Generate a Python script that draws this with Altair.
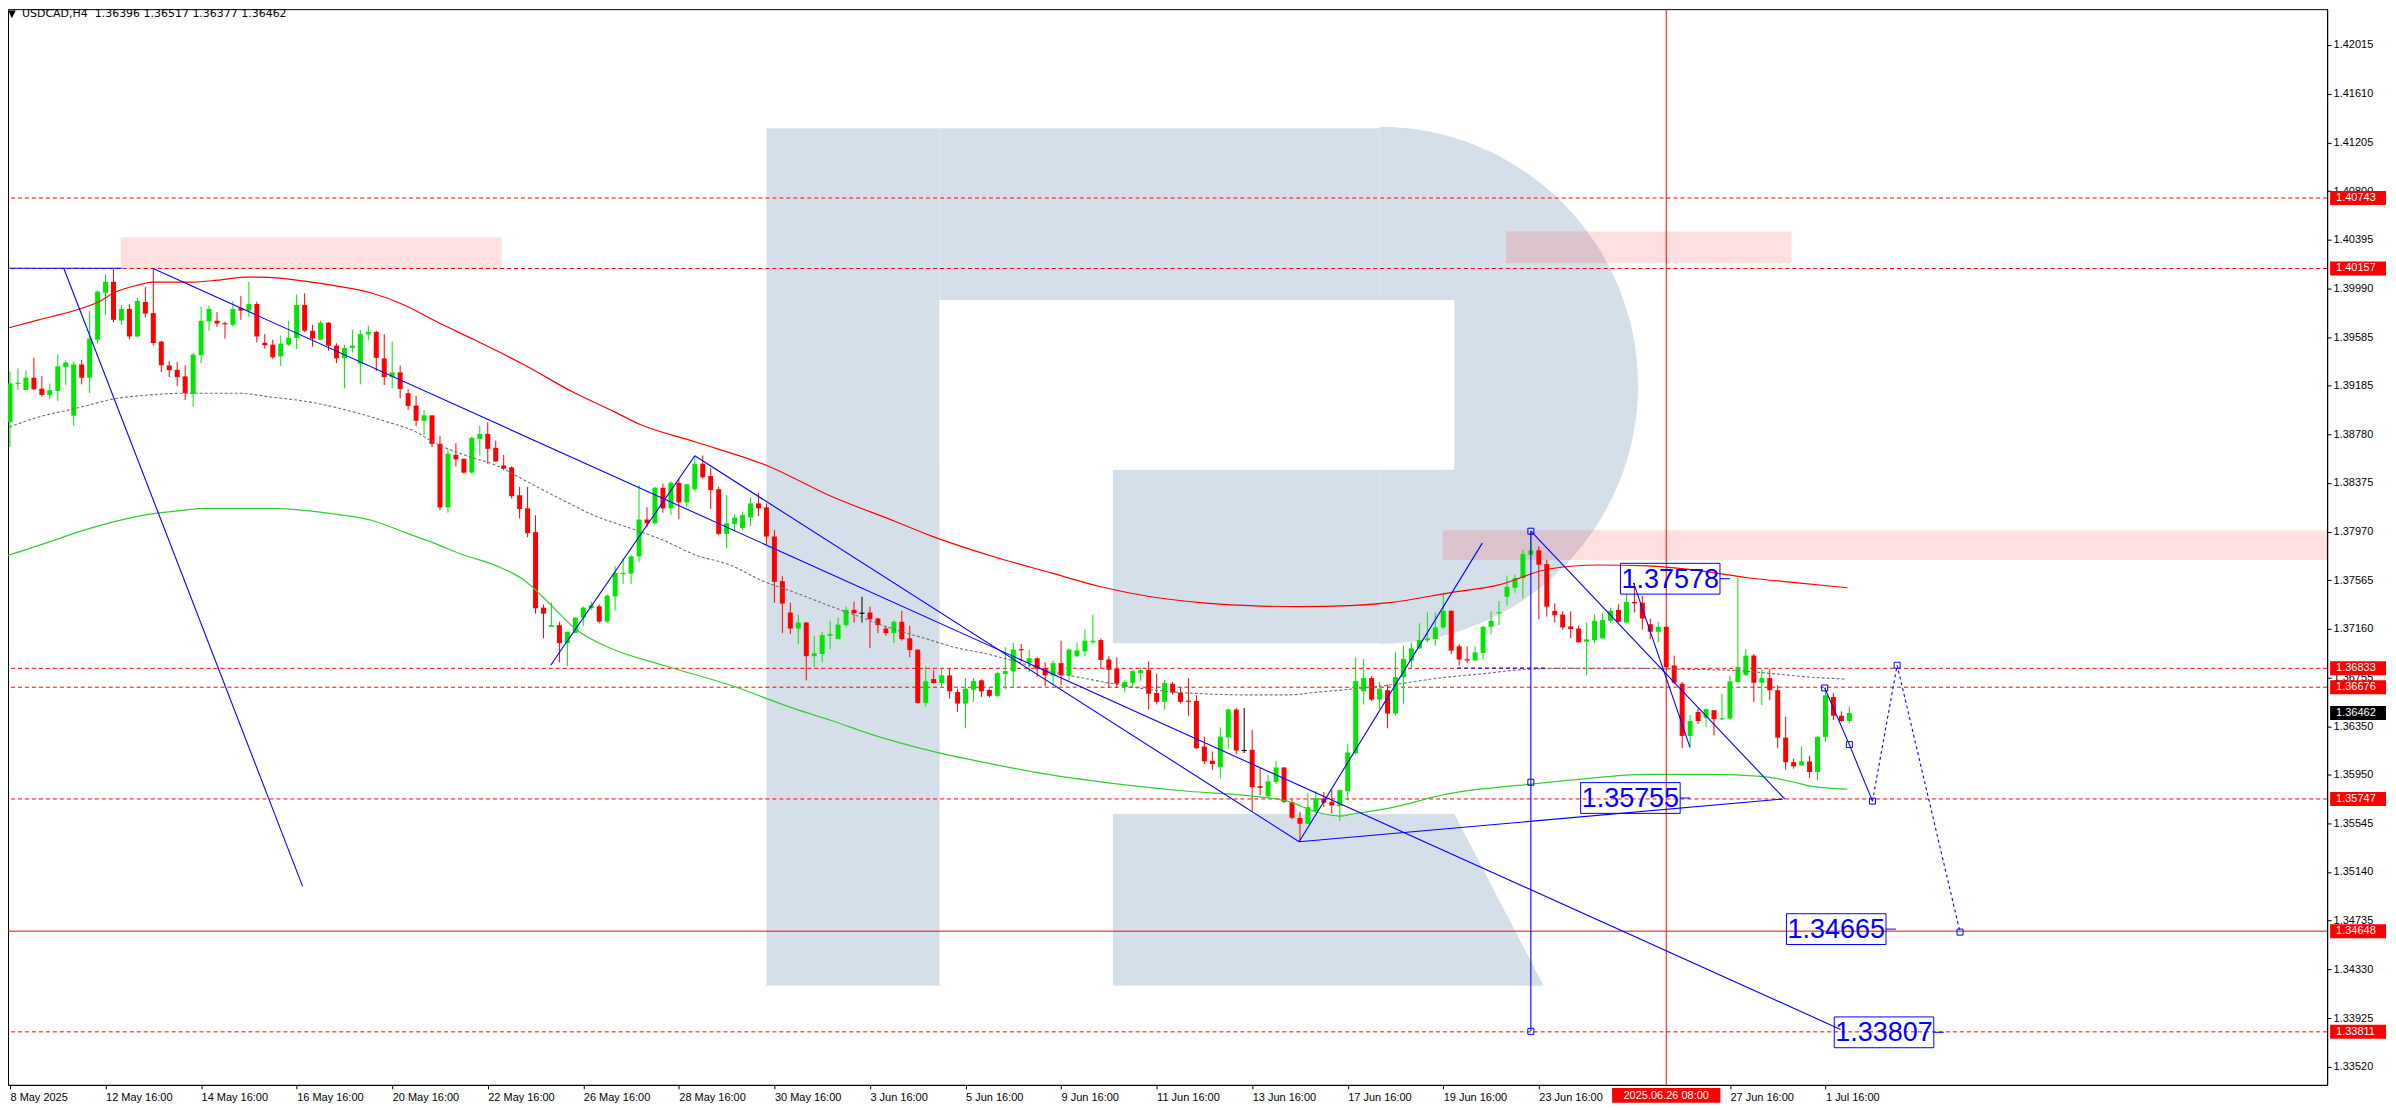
import math
import altair as alt
import pandas as pd

# ---------------- data (USDCAD H4, bar index 0 = 8 May 2025 16:00) ----------------
OPEN = [
1.38880, 1.39200, 1.39147, 1.39249, 1.39158, 1.39106, 1.39139, 1.39337, 1.38932, 1.39359,
1.39249, 1.39565, 1.39955, 1.40046, 1.39724, 1.39821, 1.39592, 1.39879, 1.39786, 1.39549,
1.39351, 1.39315, 1.39260, 1.39117, 1.39436, 1.39716, 1.39722, 1.39700, 1.39689, 1.39827,
1.39807, 1.39862, 1.39540, 1.39524, 1.39427, 1.39524, 1.39579, 1.39854, 1.39639, 1.39565,
1.39706, 1.39516, 1.39411, 1.39497, 1.39365, 1.39609, 1.39629, 1.39409, 1.39254, 1.39293,
1.39120, 1.39018, 1.38891, 1.38936, 1.38699, 1.38171, 1.38608, 1.38575, 1.38460, 1.38740,
1.38782, 1.38666, 1.38520, 1.38503, 1.38272, 1.38163, 1.37965, 1.37338, 1.37178, 1.37192,
1.37043, 1.37126, 1.37255, 1.37335, 1.37349, 1.37222, 1.37431, 1.37618, 1.37621, 1.37764,
1.38070, 1.38039, 1.38334, 1.38163, 1.38375, 1.38212, 1.38322, 1.38534, 1.38432, 1.38322,
1.37951, 1.38031, 1.37998, 1.38088, 1.38204, 1.38171, 1.37929, 1.37558, 1.37297, 1.37164,
1.37214, 1.36934, 1.36952, 1.37104, 1.37076, 1.37192, 1.37319, 1.37291, 1.37297, 1.37247,
1.37164, 1.37126, 1.37220, 1.37082, 1.36989, 1.36546, 1.36744, 1.36711, 1.36774, 1.36636,
1.36540, 1.36655, 1.36733, 1.36653, 1.36604, 1.36787, 1.36807, 1.36991, 1.36878, 1.36917,
1.36835, 1.36774, 1.36876, 1.36774, 1.36934, 1.36975, 1.37049, 1.37068, 1.36906, 1.36829,
1.36678, 1.36713, 1.36793, 1.36818, 1.36628, 1.36554, 1.36705, 1.36631, 1.36562, 1.36562,
1.36183, 1.36065, 1.36012, 1.36259, 1.36490, 1.36150, 1.36156, 1.35853, 1.35770, 1.35888,
1.36009, 1.35721, 1.35589, 1.35541, 1.35646, 1.35751, 1.35723, 1.35688, 1.35811, 1.36127,
1.36642, 1.36752, 1.36573, 1.36651, 1.36457, 1.36760, 1.36898, 1.36999, 1.37065, 1.37076,
1.37173, 1.37311, 1.37016, 1.36909, 1.36898, 1.36961, 1.37178, 1.37291, 1.37428, 1.37503,
1.37583, 1.37777, 1.37814, 1.37701, 1.37311, 1.37280, 1.37181, 1.37164, 1.37055, 1.37068,
1.37082, 1.37228, 1.37319, 1.37214, 1.37385, 1.37379, 1.37200, 1.37137, 1.37178, 1.36857,
1.36705, 1.36271, 1.36471, 1.36422, 1.36485, 1.36411, 1.36416, 1.36719, 1.36779, 1.36939,
1.36713, 1.36752, 1.36651, 1.36257, 1.36053, 1.36026, 1.36059, 1.35971, 1.36263, 1.36595,
1.36439, 1.36396]

HIGH = [
1.39301, 1.39326, 1.39309, 1.39414, 1.39262, 1.39200, 1.39442, 1.39392, 1.39381, 1.39398,
1.39804, 1.39975, 1.40110, 1.40151, 1.39854, 1.39860, 1.39914, 1.40003, 1.40157, 1.39557,
1.39386, 1.39381, 1.39353, 1.39456, 1.39840, 1.39848, 1.39794, 1.39716, 1.39887, 1.39928,
1.40046, 1.39881, 1.39612, 1.39565, 1.39601, 1.39722, 1.39942, 1.39950, 1.39689, 1.39722,
1.39711, 1.39535, 1.39524, 1.39648, 1.39648, 1.39681, 1.39639, 1.39612, 1.39549, 1.39351,
1.39153, 1.39097, 1.38979, 1.38936, 1.38765, 1.38650, 1.38705, 1.38575, 1.38759, 1.38850,
1.38880, 1.38726, 1.38608, 1.38512, 1.38342, 1.38342, 1.38105, 1.37363, 1.37379, 1.37220,
1.37137, 1.37255, 1.37346, 1.37387, 1.37365, 1.37448, 1.37682, 1.37750, 1.37777, 1.38355,
1.38171, 1.38342, 1.38369, 1.38391, 1.38410, 1.38369, 1.38600, 1.38602, 1.38498, 1.38342,
1.38272, 1.38113, 1.38136, 1.38254, 1.38292, 1.38204, 1.37984, 1.37599, 1.37379, 1.37280,
1.37220, 1.37104, 1.37137, 1.37228, 1.37255, 1.37346, 1.37387, 1.37429, 1.37346, 1.37255,
1.37187, 1.37233, 1.37311, 1.37187, 1.36989, 1.36849, 1.36816, 1.36829, 1.36829, 1.36664,
1.36752, 1.36752, 1.36741, 1.36664, 1.36802, 1.37008, 1.37041, 1.37035, 1.36989, 1.36925,
1.36884, 1.36898, 1.37063, 1.36999, 1.37049, 1.37159, 1.37280, 1.37082, 1.36934, 1.36925,
1.36738, 1.36816, 1.36843, 1.36890, 1.36788, 1.36738, 1.36719, 1.36678, 1.36752, 1.36609,
1.36265, 1.36142, 1.36342, 1.36499, 1.36504, 1.36504, 1.36321, 1.36004, 1.35949, 1.36065,
1.36009, 1.35743, 1.35641, 1.35795, 1.35811, 1.35806, 1.35825, 1.35825, 1.36202, 1.36925,
1.36911, 1.36769, 1.36719, 1.36697, 1.36966, 1.37022, 1.37049, 1.37208, 1.37297, 1.37297,
1.37461, 1.37316, 1.37035, 1.37016, 1.37016, 1.37187, 1.37307, 1.37393, 1.37604, 1.37612,
1.37819, 1.37970, 1.37847, 1.37736, 1.37373, 1.37307, 1.37307, 1.37187, 1.37214, 1.37282,
1.37291, 1.37338, 1.37365, 1.37448, 1.37544, 1.37434, 1.37247, 1.37220, 1.37181, 1.36939,
1.36719, 1.36444, 1.36499, 1.36499, 1.36485, 1.36622, 1.36774, 1.37585, 1.36994, 1.36952,
1.36829, 1.36829, 1.36692, 1.36430, 1.36081, 1.36183, 1.36106, 1.36268, 1.36678, 1.36628,
1.36475, 1.36517]

LOW = [
1.38674, 1.39147, 1.39147, 1.39147, 1.39093, 1.39070, 1.39056, 1.39188, 1.38850, 1.39194,
1.39122, 1.39535, 1.39772, 1.39708, 1.39689, 1.39568, 1.39584, 1.39749, 1.39519, 1.39296,
1.39254, 1.39180, 1.39064, 1.39007, 1.39370, 1.39639, 1.39670, 1.39574, 1.39672, 1.39730,
1.39752, 1.39543, 1.39491, 1.39403, 1.39345, 1.39513, 1.39485, 1.39629, 1.39508, 1.39565,
1.39475, 1.39370, 1.39161, 1.39458, 1.39194, 1.39560, 1.39304, 1.39188, 1.39161, 1.39078,
1.38982, 1.38848, 1.38773, 1.38672, 1.38149, 1.38127, 1.38512, 1.38451, 1.38451, 1.38602,
1.38534, 1.38553, 1.38479, 1.38245, 1.38080, 1.37923, 1.37288, 1.37082, 1.37178, 1.36884,
1.36851, 1.37126, 1.37187, 1.37319, 1.37206, 1.37208, 1.37313, 1.37536, 1.37536, 1.37715,
1.38006, 1.38031, 1.38127, 1.38107, 1.38072, 1.38171, 1.38305, 1.38410, 1.38157, 1.37942,
1.37833, 1.37971, 1.37984, 1.38017, 1.38099, 1.37860, 1.37379, 1.37126, 1.37118, 1.37035,
1.36733, 1.36843, 1.36884, 1.36994, 1.37076, 1.37175, 1.37214, 1.37214, 1.37000, 1.37126,
1.37104, 1.37043, 1.37063, 1.36925, 1.36540, 1.36513, 1.36705, 1.36678, 1.36581, 1.36471,
1.36334, 1.36554, 1.36595, 1.36590, 1.36595, 1.36659, 1.36672, 1.36890, 1.36801, 1.36760,
1.36686, 1.36692, 1.36692, 1.36733, 1.36925, 1.36934, 1.37035, 1.36829, 1.36672, 1.36669,
1.36631, 1.36686, 1.36725, 1.36490, 1.36532, 1.36490, 1.36614, 1.36540, 1.36439, 1.36164,
1.36037, 1.35987, 1.35916, 1.36164, 1.36119, 1.36128, 1.35647, 1.35779, 1.35751, 1.35872,
1.35715, 1.35578, 1.35393, 1.35537, 1.35632, 1.35679, 1.35624, 1.35564, 1.35735, 1.36114,
1.36532, 1.36560, 1.36494, 1.36334, 1.36444, 1.36540, 1.36829, 1.36994, 1.37049, 1.37022,
1.37159, 1.36952, 1.36857, 1.36878, 1.36898, 1.36911, 1.37118, 1.37192, 1.37357, 1.37462,
1.37414, 1.37777, 1.37241, 1.37264, 1.37214, 1.37154, 1.37084, 1.37049, 1.36774, 1.37043,
1.37082, 1.37214, 1.37214, 1.37214, 1.37297, 1.37154, 1.37076, 1.37049, 1.36816, 1.36705,
1.36169, 1.36183, 1.36370, 1.36348, 1.36274, 1.36403, 1.36403, 1.36713, 1.36769, 1.36554,
1.36527, 1.36568, 1.36169, 1.35990, 1.35999, 1.36018, 1.35921, 1.35900, 1.36224, 1.36403,
1.36389, 1.36377]

CLOSE = [
1.39202, 1.39205, 1.39249, 1.39153, 1.39106, 1.39145, 1.39343, 1.39376, 1.39359, 1.39249,
1.39574, 1.39964, 1.40046, 1.39730, 1.39821, 1.39592, 1.39887, 1.39782, 1.39538, 1.39353,
1.39312, 1.39254, 1.39120, 1.39442, 1.39722, 1.39821, 1.39700, 1.39695, 1.39821, 1.39807,
1.39862, 1.39592, 1.39518, 1.39419, 1.39532, 1.39582, 1.39854, 1.39639, 1.39574, 1.39706,
1.39516, 1.39411, 1.39497, 1.39516, 1.39612, 1.39629, 1.39414, 1.39254, 1.39293, 1.39155,
1.39015, 1.38891, 1.38936, 1.38699, 1.38171, 1.38617, 1.38570, 1.38460, 1.38749, 1.38782,
1.38658, 1.38553, 1.38493, 1.38264, 1.38157, 1.37957, 1.37332, 1.37288, 1.37192, 1.37043,
1.37137, 1.37255, 1.37338, 1.37357, 1.37222, 1.37437, 1.37627, 1.37624, 1.37764, 1.38070,
1.38039, 1.38334, 1.38163, 1.38375, 1.38212, 1.38363, 1.38534, 1.38421, 1.38314, 1.37951,
1.38039, 1.38086, 1.38107, 1.38204, 1.38163, 1.37929, 1.37552, 1.37371, 1.37164, 1.37214,
1.36934, 1.36958, 1.37109, 1.37118, 1.37197, 1.37319, 1.37291, 1.37291, 1.37241, 1.37192,
1.37126, 1.37220, 1.37076, 1.36985, 1.36546, 1.36725, 1.36711, 1.36774, 1.36642, 1.36540,
1.36664, 1.36727, 1.36642, 1.36604, 1.36793, 1.36810, 1.36989, 1.36985, 1.36917, 1.36829,
1.36774, 1.36876, 1.36774, 1.36989, 1.36983, 1.37063, 1.37063, 1.36903, 1.36821, 1.36705,
1.36719, 1.36810, 1.36818, 1.36622, 1.36554, 1.36711, 1.36631, 1.36554, 1.36557, 1.36169,
1.36059, 1.36037, 1.36265, 1.36490, 1.36150, 1.36150, 1.35845, 1.35839, 1.35894, 1.36009,
1.35723, 1.35591, 1.35541, 1.35679, 1.35754, 1.35715, 1.35693, 1.35820, 1.36133, 1.36727,
1.36752, 1.36573, 1.36664, 1.36457, 1.36760, 1.36911, 1.36999, 1.37068, 1.37082, 1.37173,
1.37311, 1.36980, 1.36906, 1.36898, 1.36966, 1.37178, 1.37228, 1.37297, 1.37511, 1.37583,
1.37783, 1.37814, 1.37695, 1.37346, 1.37274, 1.37173, 1.37159, 1.37049, 1.37074, 1.37228,
1.37236, 1.37311, 1.37220, 1.37385, 1.37373, 1.37247, 1.37137, 1.37178, 1.36843, 1.36713,
1.36271, 1.36395, 1.36395, 1.36494, 1.36411, 1.36416, 1.36725, 1.36843, 1.36939, 1.36713,
1.36752, 1.36651, 1.36257, 1.36053, 1.36018, 1.36059, 1.35971, 1.36263, 1.36609, 1.36439,
1.36395, 1.36462]

# moving averages (bar position, price)
RED_MA_X = [-0.1, 3.6, 7.9, 11.1, 13.25, 16.1, 17.9, 22.9, 26.1, 29.5, 31.6, 37, 41.1, 45.4, 49.5,
            53.6, 58.25, 64.5, 70.75, 75.75, 79, 86.1, 95.4, 102.9, 111.1, 115.75, 123.25, 130.75,
            137, 143.25, 149.5, 155.75, 162, 168.25, 173.25, 180.75, 187, 193.25, 199.5, 205.75,
            212.25, 218.25, 224.5, 230.75]
RED_MA_P = [1.39664, 1.39730, 1.39804, 1.39879, 1.39961, 1.40019, 1.40044, 1.40044, 1.40060, 1.40085,
            1.40085, 1.40052, 1.40011, 1.39953, 1.39854, 1.39714, 1.39566, 1.39359, 1.39128, 1.38971,
            1.38864, 1.38715, 1.38509, 1.38270, 1.38056, 1.37932, 1.37767, 1.37626, 1.37511, 1.37428,
            1.37379, 1.37354, 1.37346, 1.37354, 1.37379, 1.37461, 1.37527, 1.37659, 1.37692, 1.37684,
            1.37643, 1.37586, 1.37544, 1.37503]
GREY_MA_X = [-0.1, 3.6, 7.9, 13.6, 17, 22, 28.6, 32.9, 37, 43.25, 47, 50.75, 53.6, 57, 61.1, 65.4,
             69.5, 73.6, 77.9, 82, 86.1, 90.4, 94.5, 98.6, 102.9, 107, 111.1, 114.5, 118.6, 122.9,
             127, 131.1, 135.4, 139.5, 143.6, 147.9, 156.1, 160.4, 164.5, 168.6, 173.25, 180.4,
             184.5, 190.75, 197, 203.25, 209.5, 215.75, 222, 226.1, 230.4]
GREY_MA_P = [1.38839, 1.38922, 1.38988, 1.39079, 1.39103, 1.39120, 1.39120, 1.39087, 1.39054, 1.38963,
             1.38889, 1.38806, 1.38699, 1.38608, 1.38518, 1.38369, 1.38229, 1.38097, 1.37998, 1.37899,
             1.37775, 1.37693, 1.37560, 1.37462, 1.37354, 1.37255, 1.37156, 1.37090, 1.37008, 1.36950,
             1.36876, 1.36801, 1.36744, 1.36694, 1.36653, 1.36628, 1.36612, 1.36612, 1.36637, 1.36661,
             1.36694, 1.36760, 1.36785, 1.36826, 1.36834, 1.36834, 1.36826, 1.36818, 1.36785, 1.36760,
             1.36744]
GREEN_MA_X = [-0.5, 5.25, 8.5, 13.25, 17.4, 21.6, 24.5, 32.9, 37, 41.1, 45.4, 49.5, 53.25, 57, 61.1,
              64.5, 67.9, 71.1, 75.75, 82, 90.4, 98.6, 103.25, 108.25, 114.5, 122.9, 131.1, 139.5,
              147.9, 156.1, 160.4, 164.5, 167, 168.6, 173.25, 180.4, 190.75, 197, 205.4, 213.6,
              219.9, 224.1, 226.1, 230.75]
GREEN_MA_P = [1.37767, 1.37891, 1.37965, 1.38055, 1.38113, 1.38146, 1.38163, 1.38163, 1.38146, 1.38113,
              1.38064, 1.37965, 1.37874, 1.37775, 1.37685, 1.37569, 1.37362, 1.37156, 1.36991, 1.36859,
              1.36694, 1.36496, 1.36397, 1.36282, 1.36166, 1.36043, 1.35943, 1.35869, 1.35811, 1.35770,
              1.35729, 1.35630, 1.35605, 1.35622, 1.35671, 1.35787, 1.35869, 1.35910, 1.35952, 1.35952,
              1.35935, 1.35886, 1.35853, 1.35828]

# horizontal levels
DASHED_LEVELS = [1.40743, 1.40157, 1.36833, 1.36676, 1.35747, 1.33811]
SOLID_LEVELS = [1.34648]
CURRENT_PRICE = 1.36462

# resistance zones
ZONE_X0 = [13.9, 187.9, 179.9]
ZONE_X1 = [61.75, 223.75, 291]
ZONE_LO = [1.40157, 1.40200, 1.37734]
ZONE_HI = [1.40415, 1.40464, 1.37981]

# blue trend / wave lines
SEG_X1 = [-0.25, 6.75, 17.9, 86, 67.9, 161.9, 161.9, 191, 191, 203.9]
SEG_P1 = [1.40159, 1.40159, 1.40159, 1.38600, 1.36859, 1.35391, 1.35391, 1.37973, 1.37973, 1.37544]
SEG_X2 = [14.1, 36.75, 229.9, 161.9, 86, 184.9, 222.6, 191, 222.9, 211]
SEG_P2 = [1.40159, 1.35020, 1.33831, 1.35391, 1.38600, 1.37874, 1.35746, 1.33815, 1.35746, 1.36174]
DSEG_X1, DSEG_X2, DSEG_P = [181.75], [192.9], [1.36835]
WAVE_X = [227.9, 231, 233.9]
WAVE_P = [1.36670, 1.36199, 1.35729]
PROJ_X = [233.9, 237, 244.9]
PROJ_P = [1.35729, 1.36859, 1.34640]
MARK_X = [191, 191, 191, 227.9, 231, 233.9, 237, 244.9]
MARK_P = [1.37973, 1.35886, 1.33815, 1.36670, 1.36199, 1.35729, 1.36859, 1.34640]

# target labels
LABEL_X0 = [202.25, 197.25, 223.1, 229.1]
LABEL_VAL = [1.37578, 1.35755, 1.34665, 1.33807]

# axes
X_TICK_POS = [0, 12, 24, 36, 48, 60, 72, 84, 96, 108, 120, 132, 144, 156, 168, 180, 192, 216, 228]
X_TICK_LABELS = ["8 May 2025", "12 May 16:00", "14 May 16:00", "16 May 16:00", "20 May 16:00",
                 "22 May 16:00", "26 May 16:00", "28 May 16:00", "30 May 16:00", "3 Jun 16:00",
                 "5 Jun 16:00", "9 Jun 16:00", "11 Jun 16:00", "13 Jun 16:00", "17 Jun 16:00",
                 "19 Jun 16:00", "23 Jun 16:00", "27 Jun 16:00", "1 Jul 16:00"]
CURSOR_BAR = 208
CURSOR_LABEL = "2025.06.26 08:00"
Y_TICKS = [1.42015, 1.41610, 1.41205, 1.40800, 1.40395, 1.39990, 1.39585, 1.39185, 1.38780, 1.38375,
           1.37970, 1.37565, 1.37160, 1.36755, 1.36350, 1.35950, 1.35545, 1.35140, 1.34735, 1.34330,
           1.33925, 1.33520]
HEADER = "USDCAD,H4\u00a0\u00a01.36396 1.36517 1.36377 1.36462"

# watermark "R" (bar / price units)
LOGO_RX0 = [95, 116.75, 138.5]
LOGO_RX1 = [116.75, 172, 172]
LOGO_RP0 = [1.34194, 1.39895, 1.37041]
LOGO_RP1 = [1.41323, 1.41323, 1.38484]
LOGO_ARC_X, LOGO_ARC_P = 172, 1.39186
LOGO_LEG_X = [138.5, 181.4, 192.6]
LOGO_LEG_TOP = [1.35622, 1.35622, 1.34194]
LOGO_HOLE = (116.75, 181.4, 1.38484, 1.39895)

# ---------------- styling ----------------
GREEN = "#00e600"
RED = "#ff0000"
BLUE = "#0000ff"
LOGO = "#d5dfea"
FONT = "Liberation Sans"

x_scale = alt.Scale(domain=[-0.25, 291], nice=False, zero=False)
y_scale = alt.Scale(domain=[1.33370, 1.42313], nice=False, zero=False)

label_expr = ("[" + ",".join("'%s'" % s for s in X_TICK_LABELS) + "][indexof(["
              + ",".join(str(v) for v in X_TICK_POS) + "], datum.value)]")

x_axis = alt.Axis(values=X_TICK_POS, labelExpr=label_expr, title=None, grid=False, orient="bottom",
                  labelAlign="left", labelBaseline="top", labelPadding=3, tickSize=4,
                  tickColor="black", domainColor="black", labelColor="black", labelFont=FONT,
                  labelFontSize=11, labelOverlap=False, labelFlush=False, labelBound=False)
y_axis = alt.Axis(values=Y_TICKS, format=".5f", title=None, grid=False, orient="right",
                  labelPadding=2, tickSize=4, tickColor="black", domainColor="black",
                  labelColor="black", labelFont=FONT, labelFontSize=11, labelOverlap=False,
                  labelFlush=False, labelBound=False)


def X(f):
    return alt.X(f, type="quantitative", scale=x_scale, axis=x_axis)


def Y(f):
    return alt.Y(f, type="quantitative", scale=y_scale, axis=y_axis)


one = pd.DataFrame({"k": [0]})

# candles
rows = []
for i in range(len(OPEN)):
    o, h, l, c = OPEN[i], HIGH[i], LOW[i], CLOSE[i]
    d = "up" if c > o else ("down" if c < o else "doji")
    top, bot = max(o, c), min(o, c)
    if top - bot < 0.0001:
        mid = (top + bot) / 2
        top, bot = mid + 0.00005, mid - 0.00005
    rows.append(dict(i=i, h=h, l=l, d=d, bt=top, bb=bot, x0=i - 0.3125, x1=i + 0.3125))
candles = pd.DataFrame(rows)
dir_color = alt.Color("d:N", scale=alt.Scale(domain=["up", "down", "doji"], range=[GREEN, RED, "#000000"]), legend=None)

layers = []

# watermark
logo_rects = pd.DataFrame({"x0": LOGO_RX0, "x1": LOGO_RX1, "p0": LOGO_RP0, "p1": LOGO_RP1})
layers.append(alt.Chart(logo_rects).mark_rect(color=LOGO).encode(
    x=X("x0"), x2=alt.X2("x1"), y=Y("p0"), y2=alt.Y2("p1")))
layers.append(alt.Chart(pd.DataFrame({"x": [LOGO_ARC_X], "p": [LOGO_ARC_P]})).mark_arc(
    color=LOGO, theta=0, theta2=math.pi, radius=259).encode(x=X("x"), y=Y("p")))
leg = pd.DataFrame({"x": LOGO_LEG_X, "top": LOGO_LEG_TOP, "bot": [LOGO_LEG_TOP[-1]] * 3})
layers.append(alt.Chart(leg).mark_area(color=LOGO, interpolate="linear").encode(
    x=X("x"), y=Y("top"), y2=alt.Y2("bot")))
hole = pd.DataFrame({"x0": [LOGO_HOLE[0]], "x1": [LOGO_HOLE[1]], "p0": [LOGO_HOLE[2]], "p1": [LOGO_HOLE[3]]})
layers.append(alt.Chart(hole).mark_rect(color="white").encode(
    x=X("x0"), x2=alt.X2("x1"), y=Y("p0"), y2=alt.Y2("p1")))

# zones
zones = pd.DataFrame({"x0": ZONE_X0, "x1": ZONE_X1, "lo": ZONE_LO, "hi": ZONE_HI})
layers.append(alt.Chart(zones).mark_rect(color=RED, opacity=0.12).encode(
    x=X("x0"), x2=alt.X2("x1"), y=Y("lo"), y2=alt.Y2("hi")))

# horizontal levels
layers.append(alt.Chart(pd.DataFrame({"v": DASHED_LEVELS})).mark_rule(
    color=RED, strokeDash=[4, 3], strokeWidth=1).encode(y=Y("v")))
layers.append(alt.Chart(pd.DataFrame({"v": SOLID_LEVELS})).mark_rule(
    color=RED, strokeWidth=1).encode(y=Y("v")))

# candles
layers.append(alt.Chart(candles).mark_rule(strokeWidth=1).encode(
    x=X("i"), y=Y("l"), y2=alt.Y2("h"), color=dir_color))
layers.append(alt.Chart(candles).mark_rect().encode(
    x=X("x0"), x2=alt.X2("x1"), y=Y("bb"), y2=alt.Y2("bt"), color=dir_color))

# moving averages
layers.append(alt.Chart(pd.DataFrame({"x": RED_MA_X, "p": RED_MA_P})).mark_line(
    color=RED, strokeWidth=1.2, interpolate="monotone").encode(x=X("x"), y=Y("p")))
layers.append(alt.Chart(pd.DataFrame({"x": GREY_MA_X, "p": GREY_MA_P})).mark_line(
    color="#707070", strokeWidth=1.1, strokeDash=[3, 2], interpolate="monotone").encode(x=X("x"), y=Y("p")))
layers.append(alt.Chart(pd.DataFrame({"x": GREEN_MA_X, "p": GREEN_MA_P})).mark_line(
    color="#33cc33", strokeWidth=1.2, interpolate="monotone").encode(x=X("x"), y=Y("p")))

# vertical cursor line
layers.append(alt.Chart(pd.DataFrame({"i": [CURSOR_BAR]})).mark_rule(color=RED, strokeWidth=1).encode(x=X("i")))

# blue lines
segs = pd.DataFrame({"x1": SEG_X1, "p1": SEG_P1, "x2": SEG_X2, "p2": SEG_P2})
layers.append(alt.Chart(segs).mark_rule(color=BLUE, strokeWidth=1.1).encode(
    x=X("x1"), y=Y("p1"), x2=alt.X2("x2"), y2=alt.Y2("p2")))
dsegs = pd.DataFrame({"x1": DSEG_X1, "x2": DSEG_X2, "p": DSEG_P})
layers.append(alt.Chart(dsegs).mark_rule(color=BLUE, strokeWidth=1, strokeDash=[4, 3]).encode(
    x=X("x1"), x2=alt.X2("x2"), y=Y("p")))
layers.append(alt.Chart(pd.DataFrame({"x": WAVE_X, "p": WAVE_P})).mark_line(
    color=BLUE, strokeWidth=1.1).encode(x=X("x"), y=Y("p")))
layers.append(alt.Chart(pd.DataFrame({"x": PROJ_X, "p": PROJ_P})).mark_line(
    color=BLUE, strokeWidth=1.1, strokeDash=[3, 3]).encode(x=X("x"), y=Y("p")))
layers.append(alt.Chart(pd.DataFrame({"x": MARK_X, "p": MARK_P})).mark_point(
    shape="square", filled=False, color=BLUE, size=36, strokeWidth=1, opacity=1).encode(x=X("x"), y=Y("p")))

# target labels
lab = pd.DataFrame({"x0": LABEL_X0, "v": LABEL_VAL})
lab["x1"] = lab["x0"] + 12.5
lab["xc"] = lab["x0"] + 6.25
lab["xt"] = lab["x1"] + 1.25
lab["lo"] = lab["v"] - 0.00128
lab["hi"] = lab["v"] + 0.00128
lab["t"] = [f"{v:.5f}" for v in LABEL_VAL]
layers.append(alt.Chart(lab).mark_rect(fillOpacity=0, stroke=BLUE, strokeWidth=1).encode(
    x=X("x0"), x2=alt.X2("x1"), y=Y("lo"), y2=alt.Y2("hi")))
layers.append(alt.Chart(lab).mark_rule(color=BLUE, strokeWidth=1).encode(
    x=X("x1"), x2=alt.X2("xt"), y=Y("v")))
layers.append(alt.Chart(lab).mark_text(color=BLUE, font=FONT, fontSize=27, align="center",
                                        baseline="middle", dy=1).encode(x=X("xc"), y=Y("v"), text="t:N"))

# right-axis price badges
bvals = DASHED_LEVELS + SOLID_LEVELS + [CURRENT_PRICE]
badges = pd.DataFrame({"v": bvals, "col": [RED] * (len(bvals) - 1) + ["#000000"]})
badges["lo"] = badges["v"] - 0.00058
badges["hi"] = badges["v"] + 0.00058
badges["t"] = [f"{v:.5f}" for v in bvals]
layers.append(alt.Chart(badges).mark_rect().encode(
    x=alt.value(2327), x2=alt.value(2383), y=Y("lo"), y2=alt.Y2("hi"),
    color=alt.Color("col:N", scale=None)))
layers.append(alt.Chart(badges).mark_text(color="white", font=FONT, fontSize=11, align="left",
                                           baseline="middle").encode(x=alt.value(2333), y=Y("v"), text="t:N"))

# cursor date badge
cur = pd.DataFrame({"i": [CURSOR_BAR], "x0": [CURSOR_BAR - 6.8], "x1": [CURSOR_BAR + 6.8], "t": [CURSOR_LABEL]})
layers.append(alt.Chart(cur).mark_rect(color=RED).encode(
    x=X("x0"), x2=alt.X2("x1"), y=alt.value(1081), y2=alt.value(1096)))
layers.append(alt.Chart(cur).mark_text(color="white", font=FONT, fontSize=11, align="center",
                                        baseline="middle").encode(x=X("i"), y=alt.value(1089), text="t:N"))

# header
layers.append(alt.Chart(one).mark_text(text="\u25bc", font="DejaVu Sans", fontSize=10, align="left",
                                        baseline="middle", color="black").encode(x=alt.value(0), y=alt.value(5)))
layers.append(alt.Chart(one).mark_text(text=HEADER, font="DejaVu Sans", fontSize=11, align="left",
                                        baseline="middle", color="black").encode(x=alt.value(14), y=alt.value(5)))

chart = alt.layer(*layers).properties(
    width=2324, height=1078,
    autosize=alt.AutoSizeParams(type="none"),
    padding={"left": 0, "top": 0, "right": 61, "bottom": 20},
    background="white",
).configure_view(stroke="black", strokeWidth=1)

chart.save("out.html", embed_options={"renderer": "svg", "actions": False})
